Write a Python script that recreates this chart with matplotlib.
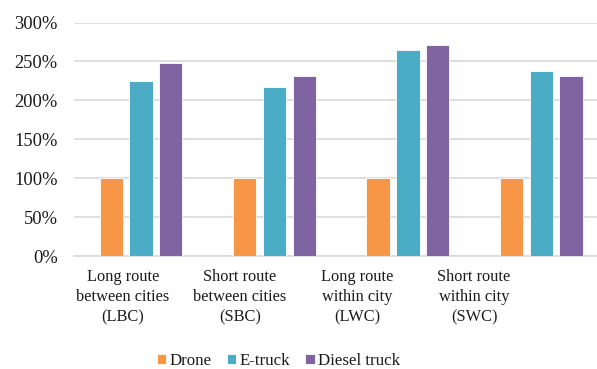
import numpy as np
import matplotlib.pyplot as plt
from matplotlib.ticker import PercentFormatter

plt.rcParams['font.family'] = ['Liberation Serif', 'DejaVu Serif']

categories = ['Long route\nbetween cities\n(LBC)',
              'Short route\nbetween cities\n(SBC)',
              'Long route\nwithin city\n(LWC)',
              'Short route\nwithin city\n(SWC)']
series_names = ['Drone', 'E-truck', 'Diesel truck']
drone = [100, 100, 100, 100]
etruck = [225, 217, 265, 238]
diesel = [248, 231, 271, 231]
colors = ['#F79646', '#4BACC6', '#8064A2']

fig = plt.figure(figsize=(5.97, 3.69), dpi=100)
ax = fig.add_axes([0.1245, 0.306, 0.894, 0.633])

x = np.arange(len(categories))
width = 0.175
step = 0.223
for i, (vals, name, col) in enumerate(zip([drone, etruck, diesel], series_names, colors)):
    ax.bar(x + (i - 1) * step, vals, width, color=col, label=name,
           edgecolor='white', linewidth=0.6, zorder=3)

ax.set_xlim(-0.5, len(categories) - 0.5)
ax.set_ylim(0, 300)
ax.set_yticks(np.arange(0, 301, 50))
ax.yaxis.set_major_formatter(PercentFormatter(decimals=0))
ax.grid(axis='y', color='#D9D9D9', linewidth=1.2, zorder=0)

# category labels sit a little left of the bar groups
ax.set_xticks(np.arange(len(categories)) * 0.877 - 0.135)
ax.set_xticklabels(categories, linespacing=1.36, fontsize=11.8)
ax.tick_params(axis='both', length=0, colors='#1a1a1a')
ax.tick_params(axis='y', pad=12, labelsize=13.3)
ax.tick_params(axis='x', pad=9)

for side in ['top', 'right', 'left']:
    ax.spines[side].set_visible(False)
ax.spines['bottom'].set_color('#D9D9D9')
ax.spines['bottom'].set_linewidth(1.2)

leg = fig.legend(loc='center', bbox_to_anchor=(278.5 / 597, 1 - 361 / 369), ncol=3,
                 frameon=False, fontsize=12.2, handlelength=0.55, handleheight=0.55,
                 handletextpad=0.2, columnspacing=0.9, borderaxespad=0)
for t in leg.get_texts():
    t.set_color('#1a1a1a')

fig.savefig('out.png', dpi=100)
